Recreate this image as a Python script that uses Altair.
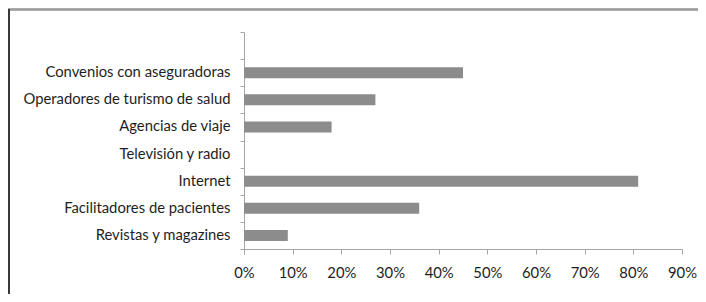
import altair as alt
import pandas as pd

categories = ["", "Convenios con aseguradoras", "Operadores de turismo de salud",
              "Agencias de viaje", "Televisión y radio", "Internet",
              "Facilitadores de pacientes", "Revistas y magazines"]
values = [None, 0.45, 0.27, 0.18, 0.0, 0.81, 0.36, 0.09]
x_ticks = [0, 0.1, 0.2, 0.3, 0.4, 0.5, 0.6, 0.7, 0.8, 0.9]

df = pd.DataFrame({"cat": categories, "val": values})
df_bars = df[df["val"].notna()]

FONT = "Lato"

bars = alt.Chart(df_bars).mark_bar(size=11, color="#8c8c8c").encode(
    y=alt.Y("cat:N", sort=categories, scale=alt.Scale(domain=categories, paddingInner=0, paddingOuter=0),
            axis=alt.Axis(title=None, tickBand="extent", tickSize=4, labelPadding=10, labelLimit=400,
                          labelFontSize=14.8, labelFont=FONT, labelColor="#1e1e1e",
                          domainColor="#a6a6a6", tickColor="#a6a6a6")),
    x=alt.X("val:Q", scale=alt.Scale(domain=[0, 0.9], nice=False),
            axis=alt.Axis(title=None, values=x_ticks, format=".0%", grid=False, tickSize=5,
                          labelFlush=False, labelPadding=11, labelFontSize=14.8, labelFont=FONT,
                          labelColor="#1e1e1e", domainColor="#a6a6a6", tickColor="#a6a6a6")),
)

top_border = alt.Chart(df_bars).mark_rule(color="#a0a0a0", strokeWidth=1.5).encode(
    x=alt.value(-236), x2=alt.value(470), y=alt.value(-22.5)
)
left_border = alt.Chart(df_bars).mark_rule(color="#3a3a3a", strokeWidth=1.5).encode(
    x=alt.value(-235), y=alt.value(-22.5), y2=alt.value(270)
)

chart = alt.layer(bars, top_border, left_border).properties(
    width=438, height=217,
    autosize=alt.AutoSizeParams(type="none"),
    padding={"left": 236, "top": 24, "right": 16, "bottom": 45},
    background="white",
).configure_view(stroke=None)

chart.save("out.html", embed_options={"renderer": "svg", "actions": False})
